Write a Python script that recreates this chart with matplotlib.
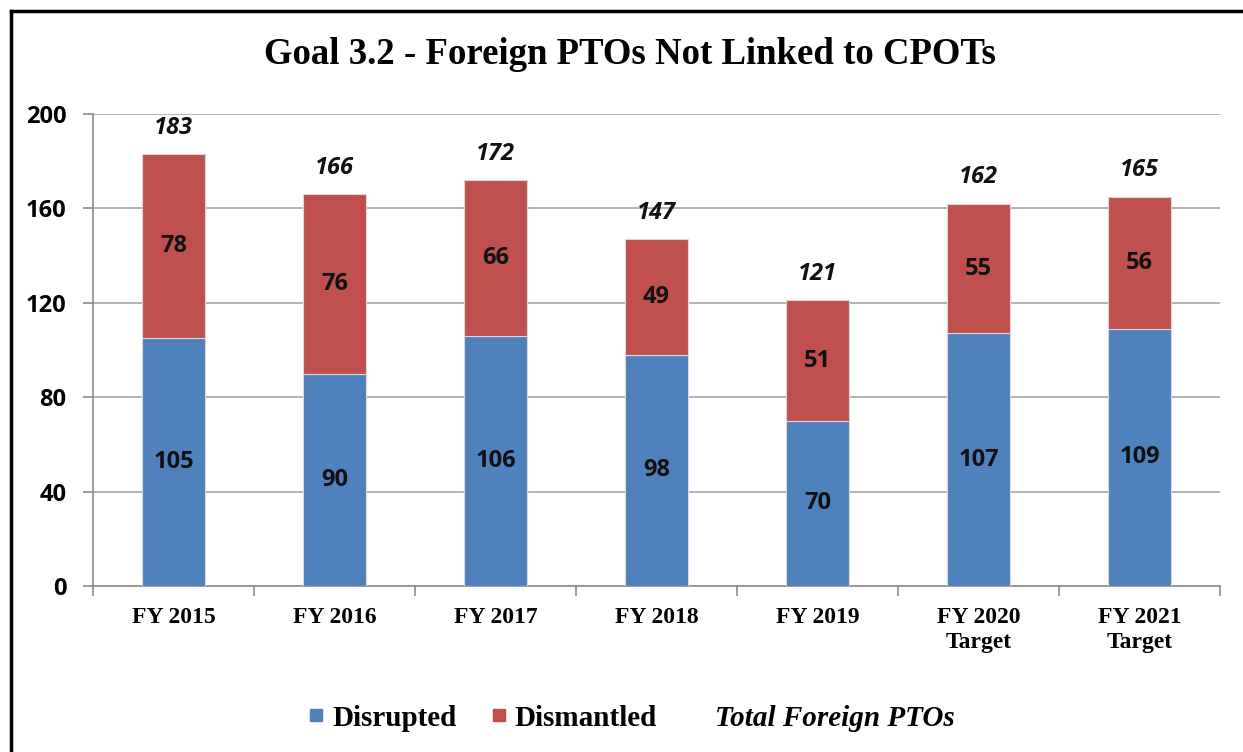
import matplotlib
matplotlib.use("Agg")
import matplotlib.pyplot as plt
from matplotlib.lines import Line2D
import numpy as np

categories = ["FY 2015", "FY 2016", "FY 2017", "FY 2018", "FY 2019", "FY 2020\nTarget", "FY 2021\nTarget"]
disrupted = [105, 90, 106, 98, 70, 107, 109]
dismantled = [78, 76, 66, 49, 51, 55, 56]
totals = [183, 166, 172, 147, 121, 162, 165]
yticks = [0, 40, 80, 120, 160, 200]

BLUE = "#4F81BD"
RED = "#C0504D"
SERIF = ["Liberation Serif", "DejaVu Serif"]
SANS = ["Open Sans", "DejaVu Sans"]

fig = plt.figure(figsize=(12.43, 7.52), dpi=100)
ax = fig.add_axes([93/1243, 1-586/752, (1220-93)/1243, (586-114)/752])

x = np.arange(len(categories))
w = 0.39
ax.bar(x, disrupted, w, color=BLUE, zorder=3, edgecolor="#d9d9d9", linewidth=0.8)
ax.bar(x, dismantled, w, bottom=disrupted, color=RED, zorder=3, edgecolor="#d9d9d9", linewidth=0.8)

LBL = 17
for i in range(len(x)):
    ax.text(x[i], disrupted[i]/2, str(disrupted[i]), ha="center", va="center",
            fontsize=LBL, fontweight="bold", family=SANS, color="#111111", zorder=4)
    ax.text(x[i], disrupted[i] + dismantled[i]/2, str(dismantled[i]), ha="center", va="center",
            fontsize=LBL, fontweight="bold", family=SANS, color="#111111", zorder=4)
    ax.annotate(str(totals[i]), (x[i], totals[i]), xytext=(0, 19), textcoords="offset points",
                ha="center", va="center", fontsize=LBL, fontweight="bold", fontstyle="italic",
                family=SANS, color="#111111")

ax.set_xlim(-0.5, len(categories) - 0.5)
ax.set_ylim(0, 200)
ax.set_yticks(yticks)
ax.set_yticklabels([str(v) for v in yticks], fontsize=LBL, fontweight="bold", family=SANS)
ax.yaxis.grid(True, color="#a6a6a6", linewidth=1.2, zorder=0)
ax.set_axisbelow(True)

ax.set_xticks(x)
ax.set_xticklabels(categories, fontsize=17, fontweight="bold", family=SERIF, linespacing=1.25)
ax.set_xticks(np.arange(-0.5, len(categories), 1.0), minor=True)
ax.tick_params(axis="x", which="major", length=0, pad=15)
ax.tick_params(axis="x", which="minor", length=7, color="#8c8c8c", width=1.2)
ax.tick_params(axis="y", length=7, color="#8c8c8c", width=1.2, pad=12)

for s in ["top", "right"]:
    ax.spines[s].set_visible(False)
for s in ["left", "bottom"]:
    ax.spines[s].set_color("#8c8c8c")
    ax.spines[s].set_linewidth(1.2)

fig.text(630/1243, 1-55/752, "Goal 3.2 - Foreign PTOs Not Linked to CPOTs", ha="center", va="center",
         fontsize=26.5, fontweight="bold", family=SERIF)

handles = [
    Line2D([], [], marker="s", linestyle="none", markersize=9, color=BLUE),
    Line2D([], [], marker="s", linestyle="none", markersize=9, color=RED),
    Line2D([], [], linestyle="none"),
]
leg = fig.legend(handles, ["Disrupted", "Dismantled", "Total Foreign PTOs"], loc="center",
                 bbox_to_anchor=(632/1243, 1-718/752), ncol=3, frameon=False,
                 prop={"family": SERIF, "weight": "bold", "size": 21},
                 handlelength=0.5, handletextpad=0.3, columnspacing=1.2)
leg.get_texts()[2].set_fontstyle("italic")

# border lines (top and left)
fig.add_artist(Line2D([11/1243, 1], [1-11/752, 1-11/752], color="black", linewidth=2.5, transform=fig.transFigure))
fig.add_artist(Line2D([11/1243, 11/1243], [0, 1-11/752], color="black", linewidth=2.5, transform=fig.transFigure))

fig.savefig("out.png", dpi=100)
